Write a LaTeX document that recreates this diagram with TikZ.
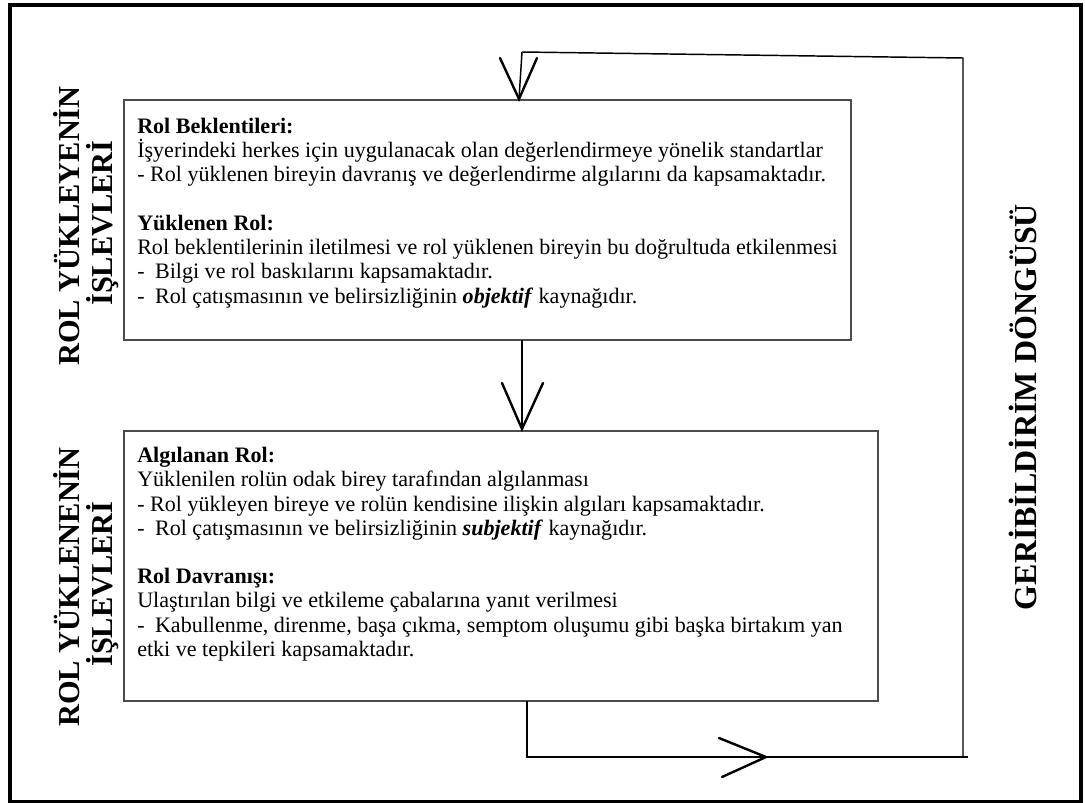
\documentclass[tikz,border=0pt]{standalone}
\usepackage{fontspec}
\setmainfont{Liberation Serif}
\begin{document}
\begin{tikzpicture}[x=0.75pt,y=-0.75pt,
  frameline/.style={line width=2.3pt},
  boxline/.style={draw=black!70, line width=0.9pt, inner sep=0pt},
  flow/.style={line width=1.1pt},
  vhead/.style={line width=1.8pt, line cap=round, line join=miter},
  txt/.style={anchor=base west, inner sep=0pt, font=\fontsize{16.55}{19}\selectfont},
  side/.style={rotate=90, anchor=base, inner sep=0pt, font=\fontsize{22.8}{25}\selectfont\bfseries},
  sidebig/.style={side, font=\fontsize{24}{26}\selectfont\bfseries}]
\useasboundingbox (0,0) rectangle (1085,803);

% outer frame
\draw[frameline] (10,5) rectangle (1081,801.5);

% the two stage boxes
\node[boxline, minimum width=545.25pt, minimum height=180pt] (box1) at (487.5,220) {};
\node[boxline, minimum width=565.5pt, minimum height=202.5pt] (box2) at (501,566) {};

% text of the upper box
\node[txt] (b1a) at (137,133.0) {\textbf{Rol Beklentileri:}};
\node[txt] (b1b) at (137,157.3) {İşyerindeki herkes için uygulanacak olan değerlendirmeye yönelik standartlar};
\node[txt] (b1c) at (137,181.6) {- Rol yüklenen bireyin davranış ve değerlendirme algılarını da kapsamaktadır.};
\node[txt] (b1d) at (137,230.2) {\textbf{Yüklenen Rol:}};
\node[txt] (b1e) at (137,254.5) {Rol beklentilerinin iletilmesi ve rol yüklenen bireyin bu doğrultuda etkilenmesi};
\node[txt] (b1f) at (137,278.8) {- \kern3.7pt Bilgi ve rol baskılarını kapsamaktadır.};
\node[txt] (b1g) at (137,303.1) {- \kern3.7pt Rol çatışmasının ve belirsizliğinin \textbf{\textit{objektif}} kaynağıdır.};

% text of the lower box
\node[txt] (b2a) at (137,462.7) {\textbf{Algılanan Rol:}};
\node[txt] (b2b) at (137,486.9) {Yüklenilen rolün odak birey tarafından algılanması};
\node[txt] (b2c) at (137,511.1) {- Rol yükleyen bireye ve rolün kendisine ilişkin algıları kapsamaktadır.};
\node[txt] (b2d) at (137,535.3) {- \kern3.7pt Rol çatışmasının ve belirsizliğinin \textbf{\textit{subjektif}} kaynağıdır.};
\node[txt] (b2e) at (137,583.7) {\textbf{Rol Davranışı:}};
\node[txt] (b2f) at (137,607.9) {Ulaştırılan bilgi ve etkileme çabalarına yanıt verilmesi};
\node[txt] (b2g) at (137,632.1) {- \kern3.7pt Kabullenme, direnme, başa çıkma, semptom oluşumu gibi başka birtakım yan};
\node[txt] (b2h) at (137,656.3) {etki ve tepkileri kapsamaktadır.};

% side captions
\node[side] (capA1) at (79,226) {ROL YÜKLEYENİN};
\node[side] (capA2) at (112,223) {İŞLEVLERİ};
\node[side] (capB1) at (79,587) {ROL YÜKLENENİN};
\node[side] (capB2) at (112,584) {İŞLEVLERİ};
\node[sidebig] (capC) at (1036,407) {GERİBİLDİRİM DÖNGÜSÜ};

% connector points
\coordinate (loopTop) at (522,52);
\coordinate (tipA) at (519,99);
\coordinate (midFrom) at (522,340);
\coordinate (tipB) at (522,429);
\coordinate (loopFrom) at (527,701);
\coordinate (loopLow) at (527,757);
\coordinate (loopEnd) at (968,757);
\coordinate (loopRight) at (963,757);
\coordinate (loopCorner) at (963,58);
\coordinate (tipC) at (766,757);

% arrow into the upper box
\draw[flow] (loopTop) -- (tipA);
\draw[vhead] (tipA) ++(-19,-41) -- (tipA) -- ++(18,-41);

% arrow between the boxes
\draw[flow] (midFrom) -- (tipB);
\draw[vhead] (tipB) ++(-20,-46) -- (tipB) -- ++(21,-46);

% feedback loop
\draw[flow] (loopFrom) -- (loopLow) -- (loopEnd);
\draw[flow] (loopRight) -- (loopCorner) -- (loopTop);
\draw[vhead] (tipC) ++(-47,-19) -- (tipC) -- ++(-44,20);
\end{tikzpicture}
\end{document}
